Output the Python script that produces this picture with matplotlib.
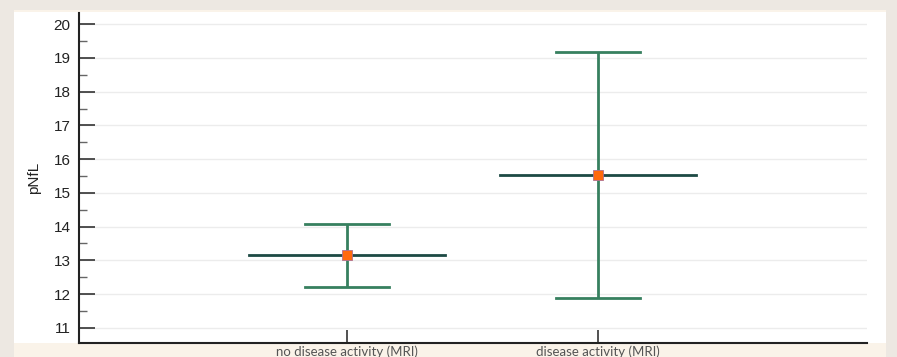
import matplotlib
matplotlib.use("Agg")
import matplotlib.pyplot as plt
from matplotlib.patches import Rectangle
from matplotlib.ticker import MultipleLocator

# Data
groups = ["no disease activity (MRI)", "disease activity (MRI)"]
means = [13.15, 15.52]
lower = [12.22, 11.87]
upper = [14.08, 19.17]
positions = [1, 2]

W, H = 897, 357
fig = plt.figure(figsize=(W / 100, H / 100), dpi=100, facecolor="#ede8e2")

# cream panel and white plot card
fig.patches.append(Rectangle((14 / W, 0), 872 / W, 347 / H, transform=fig.transFigure,
                             facecolor="#faf3e9", edgecolor="none", zorder=-2))
fig.patches.append(Rectangle((14 / W, 14 / H), 872 / W, 331 / H, transform=fig.transFigure,
                             facecolor="white", edgecolor="none", zorder=-1))

ax = fig.add_axes([79 / W, 14 / H, (867 - 79) / W, (343 - 12.7) / H])
ax.set_facecolor("none")

for x, m, lo, hi in zip(positions, means, lower, upper):
    ax.plot([x, x], [lo, hi], color="#37805f", lw=2, zorder=2, solid_capstyle="butt")
    ax.plot([x - 0.167, x + 0.167], [lo, lo], color="#37805f", lw=2, zorder=2)
    ax.plot([x - 0.167, x + 0.167], [hi, hi], color="#37805f", lw=2, zorder=2)
    ax.plot([x - 0.39, x + 0.39], [m, m], color="#1d4a44", lw=2, zorder=3)
    ax.plot([x], [m], marker="s", ms=7, mfc="#ff6a0d", mec="#b07090", mew=0.6, zorder=4)

ax.set_xlim(-0.068, 3.072)
ax.set_ylim(10.55, 20.34)

ax.yaxis.set_major_locator(MultipleLocator(1))
ax.yaxis.set_minor_locator(MultipleLocator(0.5))
ax.grid(axis="y", which="major", color="#ececec", lw=1, zorder=0)

for side in ["top", "right"]:
    ax.spines[side].set_visible(False)
ax.spines["left"].set_color("#222222")
ax.spines["bottom"].set_color("#222222")
ax.spines["left"].set_linewidth(1.5)
ax.spines["bottom"].set_linewidth(1.5)

ax.tick_params(axis="y", which="major", direction="in", length=11.5, width=1.2, color="#333333",
               labelsize=11, pad=6, labelcolor="#222222")
ax.tick_params(axis="y", which="minor", direction="in", length=5.8, width=1, color="#666666")
for lbl in ax.get_yticklabels():
    lbl.set_family("Liberation Sans")

ax.set_xticks(positions)
ax.set_xticklabels(groups, family="Lato", fontsize=9.5, color="#555555")
ax.tick_params(axis="x", direction="in", length=9.5, width=1.2, color="#333333", pad=2)

ax.set_ylabel("pNfL", family="Liberation Sans", fontsize=11, color="#222222", labelpad=9)

fig.savefig("out.png", dpi=100, facecolor=fig.get_facecolor())
